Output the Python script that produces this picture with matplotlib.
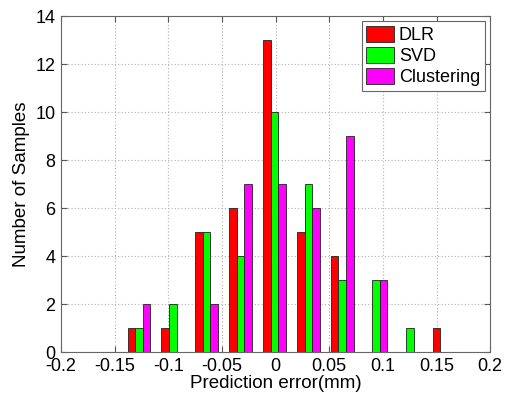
import numpy as np
import matplotlib
matplotlib.use("Agg")
import matplotlib.pyplot as plt

plt.rcParams['font.family'] = ['Liberation Sans', 'DejaVu Sans']

bin_centers = [-0.1275, -0.0959, -0.0643, -0.0327, -0.0011, 0.0305, 0.0621, 0.0937, 0.1253, 0.1569]
series_names = ["DLR", "SVD", "Clustering"]
dlr = [1, 1, 5, 6, 13, 5, 4, 0, 0, 1]
svd = [1, 2, 5, 4, 10, 7, 3, 3, 1, 0]
clustering = [2, 0, 2, 7, 7, 6, 9, 3, 0, 0]
colors = ["#ff0000", "#00ff00", "#ff00ff"]
xticks = [-0.2, -0.15, -0.1, -0.05, 0, 0.05, 0.1, 0.15, 0.2]
xticklabels = ["-0.2", "-0.15", "-0.1", "-0.05", "0", "0.05", "0.1", "0.15", "0.2"]
yticks = [0, 2, 4, 6, 8, 10, 12, 14]

fig = plt.figure(figsize=(5.09, 4.01), dpi=100)
ax = fig.add_axes([0.12, 0.122, 0.843, 0.838])

centers = np.array(bin_centers)
spacing = np.mean(np.diff(centers))
group_w = spacing * 3 / 4.5
bw = group_w / 3
for i, (vals, name, c) in enumerate(zip([dlr, svd, clustering], series_names, colors)):
    ax.bar(centers + (i - 1) * bw, vals, width=bw, color=c, edgecolor="#222222",
           linewidth=0.6, label=name, zorder=3)

ax.set_xlim(-0.2, 0.2)
ax.set_ylim(0, 14)
ax.set_xticks(xticks)
ax.set_xticklabels(xticklabels)
ax.set_yticks(yticks)
ax.tick_params(direction='in', labelsize=13, length=4, color="#555555", top=True, right=True,
               labeltop=False, labelright=False, pad=4)
ax.grid(True, linestyle=(0, (1, 2)), color="#b0b0b0", linewidth=0.8, zorder=0)
for s in ax.spines.values():
    s.set_color("#666666")
ax.set_xlabel("Prediction error(mm)", fontsize=13.5, labelpad=0)
ax.set_ylabel("Number of Samples", fontsize=13.5, labelpad=4)

leg = ax.legend(loc="upper right", fontsize=13, fancybox=False, framealpha=1,
                edgecolor="#666666", borderaxespad=0.3, handlelength=1.5,
                handleheight=1.0, handletextpad=0.3, labelspacing=0.15, borderpad=0.25)
leg.get_frame().set_linewidth(0.8)

fig.savefig("out.png", dpi=100)
